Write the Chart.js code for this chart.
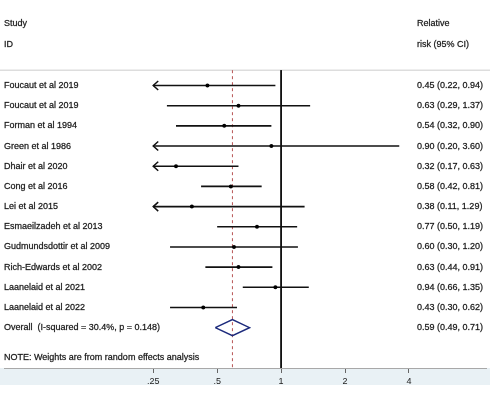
<!DOCTYPE html>
<html>
<head>
<meta charset="utf-8">
<script src="https://cdn.jsdelivr.net/npm/chart.js@4"></script>
<style>
  body { margin: 0; background: #fff; }
  canvas { display: block; }
</style>
</head>
<body>
<canvas id="chart" width="490" height="400"></canvas>
<script>
// Study data (relative risk with 95% CI)
const studies = [
    'Foucaut et al 2019', 'Foucaut et al 2019', 'Forman et al 1994', 'Green et al 1986',
    'Dhair et al 2020', 'Cong et al 2016', 'Lei et al 2015', 'Esmaeilzadeh et al 2013',
    'Gudmundsdottir et al 2009', 'Rich-Edwards et al 2002', 'Laanelaid et al 2021', 'Laanelaid et al 2022'
];
const rr    = [0.45, 0.63, 0.54, 0.90, 0.32, 0.58, 0.38, 0.77, 0.60, 0.63, 0.94, 0.43];
const lower = [0.22, 0.29, 0.32, 0.20, 0.17, 0.42, 0.11, 0.50, 0.30, 0.44, 0.66, 0.30];
const upper = [0.94, 1.37, 0.90, 3.60, 0.63, 0.81, 1.29, 1.19, 1.20, 0.91, 1.35, 0.62];

// Pooled estimate
const overallLabel = 'Overall  (I-squared = 30.4%, p = 0.148)';
const overallRR = 0.59;
const overallLower = 0.49;
const overallUpper = 0.71;

// Axis ticks
const tickValues = [0.25, 0.5, 1, 2, 4];
const tickLabels = ['.25', '.5', '1', '2', '4'];

// Layout constants (pixels / row units)
const FONT = '"Liberation Sans", Arial, sans-serif';
const oneX = 281.7;       // pixel of RR = 1
const perDoubling = 65;   // pixels per doubling
const xMin = Math.pow(2, -oneX / perDoubling);
const xMax = Math.pow(2, (490 - oneX) / perDoubling);
const clipMin = 0.25;     // CIs below this get an arrow
const yMin = -4.04, yMax = 14;
const headerRows = [-3.05, -2.03];
const sepRow = -0.76;
const overallRow = studies.length;
const noteRow = 13.48;

const fmt = v => v.toFixed(2);

// CI line for each study, clipped at the left edge
const ciDatasets = studies.map((s, i) => ({
    type: 'line',
    data: [{ x: Math.max(lower[i], clipMin), y: i }, { x: upper[i], y: i }],
    borderColor: '#111',
    borderWidth: 1.6,
    pointRadius: 0,
    showLine: true
}));

// Draw the light band under the axis and the header separator
const backgroundPlugin = {
    id: 'background',
    beforeDraw(chart) {
        const ctx = chart.ctx;
        const area = chart.chartArea;
        const y = chart.scales.y;
        ctx.save();
        ctx.fillStyle = '#e9f1f5';
        ctx.fillRect(0, area.bottom, chart.width, 17);
        ctx.strokeStyle = '#dddddd';
        ctx.lineWidth = 1.5;
        ctx.beginPath();
        ctx.moveTo(0, y.getPixelForValue(sepRow));
        ctx.lineTo(chart.width, y.getPixelForValue(sepRow));
        ctx.stroke();
        ctx.restore();
    }
};

// Slightly heavier text, like the original export
const drawText = (ctx, text, x, y) => {
    ctx.strokeText(text, x, y);
    ctx.fillText(text, x, y);
};

// Arrow heads for clipped CIs + all the text columns
const textPlugin = {
    id: 'forestText',
    afterDatasetsDraw(chart) {
        const ctx = chart.ctx;
        const x = chart.scales.x;
        const y = chart.scales.y;
        ctx.save();
        ctx.strokeStyle = '#111';
        ctx.lineWidth = 1.5;
        lower.forEach((lo, i) => {
            if (lo < clipMin) {
                const px = x.getPixelForValue(clipMin);
                const py = y.getPixelForValue(i);
                ctx.beginPath();
                ctx.moveTo(px + 5, py - 4.5);
                ctx.lineTo(px, py);
                ctx.lineTo(px + 5, py + 4.5);
                ctx.stroke();
            }
        });
        ctx.restore();
    },
    afterDraw(chart) {
        const ctx = chart.ctx;
        const y = chart.scales.y;
        ctx.save();
        ctx.font = '9px ' + FONT;
        ctx.fillStyle = '#111';
        ctx.strokeStyle = 'rgba(17,17,17,0.6)';
        ctx.lineWidth = 0.35;
        ctx.textBaseline = 'middle';
        drawText(ctx, 'Study', 4, y.getPixelForValue(headerRows[0]));
        drawText(ctx, 'ID', 4, y.getPixelForValue(headerRows[1]));
        drawText(ctx, 'Relative', 417, y.getPixelForValue(headerRows[0]));
        drawText(ctx, 'risk (95% CI)', 417, y.getPixelForValue(headerRows[1]));
        studies.forEach((s, i) => {
            const py = y.getPixelForValue(i);
            drawText(ctx, s, 4, py);
            drawText(ctx, `${fmt(rr[i])} (${fmt(lower[i])}, ${fmt(upper[i])})`, 417, py);
        });
        const po = y.getPixelForValue(overallRow);
        drawText(ctx, overallLabel, 4, po);
        drawText(ctx, `${fmt(overallRR)} (${fmt(overallLower)}, ${fmt(overallUpper)})`, 417, po);
        drawText(ctx, 'NOTE: Weights are from random effects analysis', 4, y.getPixelForValue(noteRow));
        ctx.restore();
    }
};

const forestCanvas = document.getElementById('chart').getContext('2d');

new Chart(forestCanvas, {
    type: 'scatter',
    data: {
        datasets: [
            // point estimates
            {
                data: rr.map((v, i) => ({ x: v, y: i })),
                backgroundColor: '#000',
                borderWidth: 0,
                pointRadius: 2
            },
            ...ciDatasets,
            // pooled diamond
            {
                type: 'line',
                data: [
                    { x: overallLower, y: overallRow },
                    { x: overallRR, y: overallRow - 0.4 },
                    { x: overallUpper, y: overallRow },
                    { x: overallRR, y: overallRow + 0.4 },
                    { x: overallLower, y: overallRow }
                ],
                borderColor: '#1c2a7c',
                borderWidth: 1.5,
                pointRadius: 0,
                showLine: true
            },
            // pooled estimate reference line
            {
                type: 'line',
                data: [{ x: overallRR, y: sepRow }, { x: overallRR, y: yMax }],
                borderColor: '#b85555',
                borderWidth: 1,
                borderDash: [3, 3],
                pointRadius: 0,
                showLine: true
            },
            // line of no effect
            {
                type: 'line',
                data: [{ x: 1, y: sepRow }, { x: 1, y: yMax }],
                borderColor: '#000',
                borderWidth: 1,
                pointRadius: 0,
                showLine: true
            }
        ]
    },
    options: {
        responsive: false,
        animation: false,
        layout: { padding: 0 },
        plugins: {
            legend: { display: false },
            tooltip: { enabled: false }
        },
        scales: {
            x: {
                type: 'logarithmic',
                position: 'bottom',
                min: xMin,
                max: xMax,
                bounds: 'data',
                afterBuildTicks: scale => {
                    scale.ticks = tickValues.map(v => ({ value: v }));
                },
                afterFit: scale => {
                    scale.height = 32;
                },
                ticks: {
                    autoSkip: false,
                    maxRotation: 0,
                    padding: 3,
                    color: '#222',
                    font: { family: FONT, size: 9 },
                    callback: (v, i) => tickLabels[i]
                },
                grid: {
                    display: true,
                    drawOnChartArea: false,
                    drawTicks: true,
                    tickLength: 5,
                    color: '#666'
                },
                border: { display: true, color: '#a8a8a8', width: 1 }
            },
            y: {
                display: false,
                reverse: true,
                min: yMin,
                max: yMax
            }
        }
    },
    plugins: [backgroundPlugin, textPlugin]
});
</script>
</body>
</html>
